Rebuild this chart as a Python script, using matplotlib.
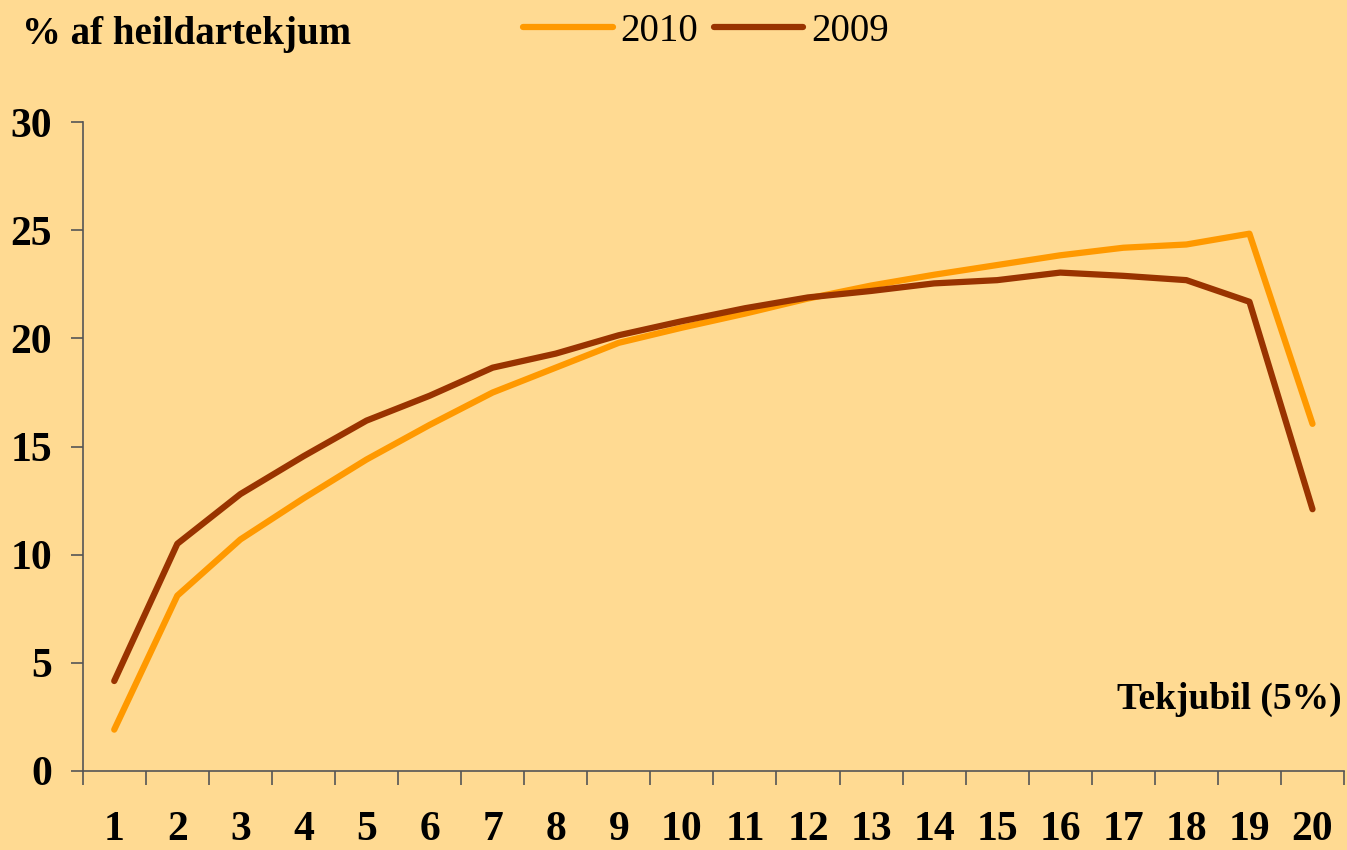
import numpy as np
import matplotlib
matplotlib.use("Agg")
import matplotlib.pyplot as plt

# data
deciles = [str(i) for i in range(1, 21)]
y2010 = [1.9, 8.1, 10.7, 12.6, 14.4, 16.0, 17.5, 18.65, 19.8, 20.5,
         21.15, 21.85, 22.45, 22.95, 23.4, 23.85, 24.2, 24.35, 24.85, 16.05]
y2009 = [4.15, 10.5, 12.8, 14.55, 16.2, 17.35, 18.65, 19.3, 20.15, 20.8,
         21.4, 21.9, 22.2, 22.55, 22.7, 23.05, 22.9, 22.7, 21.7, 12.1]
series_labels = ["2010", "2009"]
yticks = [0, 5, 10, 15, 20, 25, 30]

bg = "#FFDA92"
c2010 = "#FF9900"
c2009 = "#993300"

plt.rcParams['font.family'] = ['Liberation Serif', 'DejaVu Serif']

fig = plt.figure(figsize=(13.47, 8.5), dpi=100, facecolor=bg)
ax = fig.add_axes([0.0614, 0.0933, 0.9364, 0.7627], facecolor=bg)

x = np.arange(len(deciles)) + 0.5
l1, = ax.plot(x, y2010, color=c2010, lw=4.5, solid_capstyle='round', solid_joinstyle='round')
l2, = ax.plot(x, y2009, color=c2009, lw=4.5, solid_capstyle='round', solid_joinstyle='round')

ax.set_xlim(0, 20)
ax.set_ylim(0, 30)
ax.set_yticks(yticks)
ax.set_yticklabels([str(t) for t in yticks], fontsize=30, fontweight='bold')
ax.set_xticks(np.arange(0, 21))
ax.set_xticklabels([])
ax.set_xticks(x, minor=True)
ax.set_xticklabels(deciles, minor=True, fontsize=30, fontweight='bold')
ax.tick_params(axis='x', which='minor', length=0, pad=29)
ax.tick_params(axis='x', which='major', length=10, width=1.2, color='#555555', direction='out')
ax.tick_params(axis='y', length=9, width=1.2, color='#555555', direction='out', pad=13)

for s in ['top', 'right']:
    ax.spines[s].set_visible(False)
for s in ['left', 'bottom']:
    ax.spines[s].set_color('#555555')
    ax.spines[s].set_linewidth(1.2)

fig.text(0.016, 0.948, "% af heildartekjum", fontsize=28, fontweight='bold', ha='left', va='baseline')
ax.text(0.998, 0.095, "Tekjubil (5%)", transform=ax.transAxes, fontsize=27, fontweight='bold',
        ha='right', va='baseline')

ax.legend([l1, l2], series_labels, loc='center', bbox_to_anchor=(0.524, 0.963),
          bbox_transform=fig.transFigure, ncol=2, frameon=False, fontsize=28,
          handlelength=2.3, handletextpad=0.2, columnspacing=0.4)

fig.savefig("out.png", dpi=100, facecolor=bg)
